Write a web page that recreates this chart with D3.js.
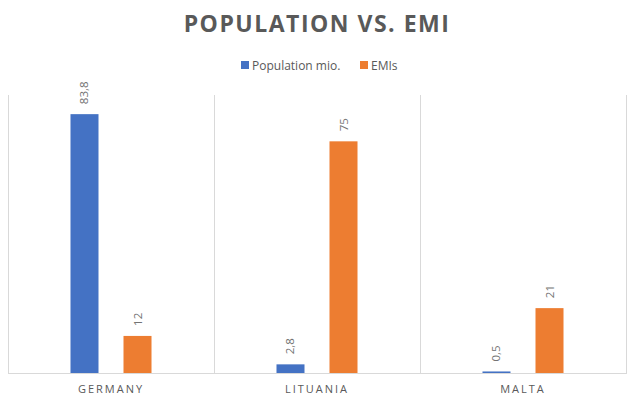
<!DOCTYPE html>
<html><head><meta charset="utf-8">
<script src="https://cdn.jsdelivr.net/npm/d3@7"></script>
<style>body{margin:0;background:#fff}svg{display:block}</style>
</head><body>
<svg id="c" width="638" height="399"></svg>
<script>
const categories = ["GERMANY", "LITUANIA", "MALTA"];
const seriesNames = ["Population mio.", "EMIs"];
const population = [83.8, 2.8, 0.5];
const emis = [12, 75, 21];
const populationLabels = ["83,8", "2,8", "0,5"];
const emiLabels = ["12", "75", "21"];
const colors = ["#4472C4", "#ED7D31"];
const yMax = 90;

const seriesValues = [population, emis];
const seriesLabels = [populationLabels, emiLabels];

const svg = d3.select("#c");
const mLeft = 8, mRight = 626, mTop = 95, mBottom = 373;

const x0 = d3.scaleBand().domain(categories).range([mLeft, mRight]);
const x1 = d3.scaleBand().domain(seriesNames).range([0, x0.bandwidth()])
  .paddingInner(25 / 53).paddingOuter(1.179);
const y = d3.scaleLinear().domain([0, yMax]).range([mBottom, mTop]);

// vertical grid separators
const bounds = categories.map(c => x0(c)).concat([mRight]);
svg.append("g").selectAll("line").data(bounds).join("line")
  .attr("x1", d => Math.round(d) + 0.5).attr("x2", d => Math.round(d) + 0.5)
  .attr("y1", mTop).attr("y2", mBottom)
  .attr("stroke", "#d9d9d9").attr("stroke-width", 1);

// bars
seriesNames.forEach((s, si) => {
  const g = svg.append("g");
  g.selectAll("rect").data(categories).join("rect")
    .attr("x", c => x0(c) + x1(s))
    .attr("width", x1.bandwidth())
    .attr("y", (c, i) => y(seriesValues[si][i]))
    .attr("height", (c, i) => mBottom - y(seriesValues[si][i]))
    .attr("fill", colors[si]);
  g.selectAll("text").data(categories).join("text")
    .attr("transform", (c, i) => {
      const cx = x0(c) + x1(s) + x1.bandwidth() / 2 + 4;
      const cy = y(seriesValues[si][i]) - 10;
      return `translate(${cx},${cy}) rotate(-90)`;
    })
    .attr("font-family", "Open Sans, sans-serif")
    .attr("font-size", 11.5)
    .attr("fill", "#737373")
    .text((c, i) => seriesLabels[si][i]);
});

// baseline
svg.append("line").attr("x1", mLeft).attr("x2", mRight + 1)
  .attr("y1", mBottom + 0.5).attr("y2", mBottom + 0.5)
  .attr("stroke", "#d9d9d9");

// category axis
const xAxis = d3.axisBottom(x0).tickSize(0).tickPadding(0);
const ax = svg.append("g").attr("transform", `translate(0,${mBottom})`).call(xAxis);
ax.select(".domain").remove();
ax.selectAll("text")
  .attr("y", 20)
  .attr("dy", 0)
  .attr("font-family", "Open Sans, sans-serif")
  .attr("font-size", 11)
  .attr("letter-spacing", "2px")
  .attr("fill", "#595959");

// title
svg.append("text").attr("x", 317).attr("y", 32)
  .attr("text-anchor", "middle")
  .attr("font-family", "Open Sans, sans-serif")
  .attr("font-weight", "bold")
  .attr("font-size", 23)
  .attr("letter-spacing", "1.5px")
  .attr("fill", "#595959")
  .text("POPULATION VS. EMI");

// legend
const legendX = [241, 360];
seriesNames.forEach((s, i) => {
  svg.append("rect").attr("x", legendX[i]).attr("y", 61).attr("width", 8).attr("height", 8)
    .attr("fill", colors[i]);
  svg.append("text").attr("x", legendX[i] + 11).attr("y", 69.5)
    .attr("font-family", "Open Sans, sans-serif")
    .attr("font-size", 12)
    .attr("fill", "#595959")
    .text(s);
});
</script>
</body></html>
